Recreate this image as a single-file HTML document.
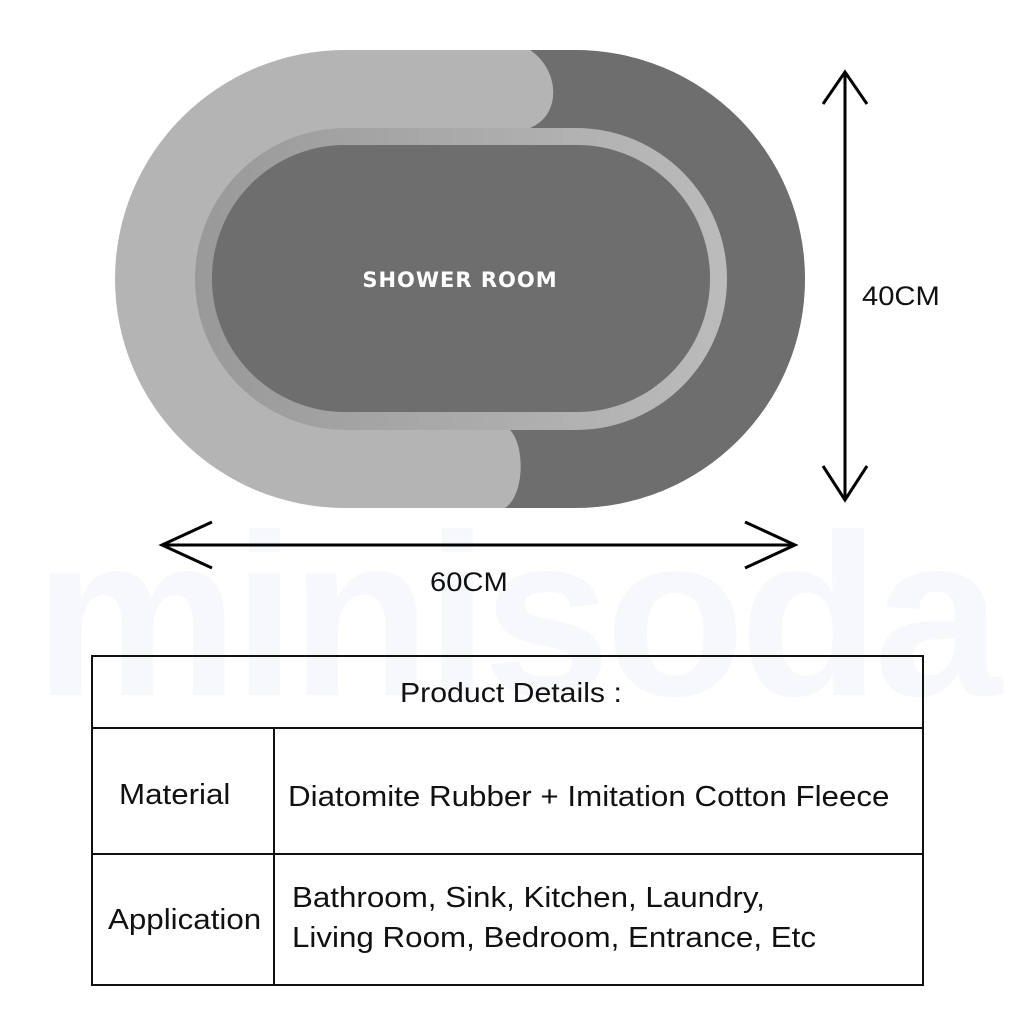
<!DOCTYPE html>
<html><head><style>
body{margin:0;width:1024px;height:1024px;background:#fff;position:relative;overflow:hidden;font-family:"Liberation Sans",sans-serif;}
.t{position:absolute;color:#111;white-space:nowrap;transform-origin:0 0;transform:scaleX(1.08);font-size:29px;}
</style></head><body>
<svg width="1024" height="1024" style="position:absolute;left:0;top:0">
<defs>
<clipPath id="oc"><rect x="115" y="50" width="690" height="458" rx="230" ry="229"/></clipPath>
<linearGradient id="rg" x1="0" x2="1"><stop offset="0" stop-color="#999"/><stop offset="1" stop-color="#bbb"/></linearGradient>
</defs>
<text x="515" y="695" font-family="Liberation Sans" font-weight="bold" font-size="230" fill="#f6f8fc" text-anchor="middle" letter-spacing="-6">minisoda</text>
<g clip-path="url(#oc)">
<rect x="100" y="40" width="720" height="480" fill="#b4b4b4"/>
<path d="M530 40 L530 50 C560 70 562 115 530 128 L510 430 C525 445 525 495 505 508 L505 520 L820 520 L820 40 Z" fill="#6e6e6e"/>
</g>
<rect x="195" y="128" width="532" height="302" rx="151" ry="151" fill="url(#rg)"/>
<rect x="212" y="145" width="498" height="267" rx="133" ry="133" fill="#6e6e6e"/>
<text x="460" y="287" font-family="DejaVu Sans" font-weight="bold" font-size="21" fill="#fff" text-anchor="middle" letter-spacing="1">SHOWER  ROOM</text>
<g stroke="#000" stroke-width="3" fill="none">
<line x1="845" y1="72" x2="845" y2="500"/>
<polyline points="823,104 845,72 867,104"/>
<polyline points="823,466 845,500 867,466"/>
<line x1="162" y1="545" x2="795" y2="545"/>
<polyline points="212,522 162,545 212,568"/>
<polyline points="745,522 795,545 745,568"/>
</g>
<g stroke="#111" stroke-width="2" fill="none">
<rect x="92" y="656" width="831" height="329"/>
<line x1="92" y1="728" x2="923" y2="728"/>
<line x1="92" y1="854" x2="923" y2="854"/>
<line x1="274" y1="728" x2="274" y2="985"/>
</g>
</svg>
<div class="t" style="left:862px;top:281px;font-size:27px">40CM</div>
<div class="t" style="left:430px;top:567px;font-size:27px">60CM</div>
<div class="t" style="left:400px;top:677px;font-size:28px">Product Details :</div>
<div class="t" style="left:119px;top:779px">Material</div>
<div class="t" style="left:288px;top:781px">Diatomite Rubber + Imitation Cotton Fleece</div>
<div class="t" style="left:108px;top:904px">Application</div>
<div class="t" style="left:292px;top:882px">Bathroom, Sink, Kitchen, Laundry,</div>
<div class="t" style="left:292px;top:922px">Living Room, Bedroom, Entrance, Etc</div>
</body></html>
